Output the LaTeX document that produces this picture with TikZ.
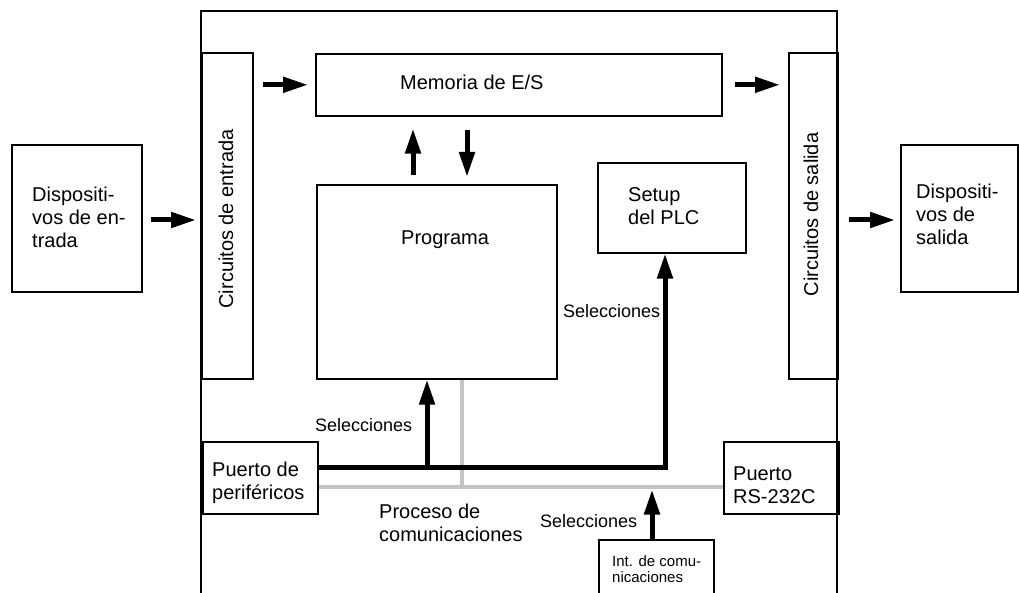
\documentclass[tikz,border=0pt]{standalone}
\usepackage{fontspec}
\setmainfont{Liberation Sans}
\usetikzlibrary{arrows.meta}
\definecolor{greyline}{RGB}{196,196,196}
\newcommand\fa{\fontsize{20}{23}\selectfont}
\newcommand\fsel{\fontsize{18}{20}\selectfont}
\newcommand\fint{\fontsize{15}{16.5}\selectfont}
\tikzset{
  box/.style={draw, line width=1.6pt, inner sep=0pt, anchor=north west},
  txt/.style={inner sep=0pt, anchor=base west, align=left, font=\fa},
  seltxt/.style={inner sep=0pt, anchor=base west, font=\fsel},
  bigarrow/.style={line width=5pt, line join=miter, -{Triangle[length=25pt,width=15pt]}},
  greypath/.style={line width=4.5pt, draw=greyline},
  frame/.style={line width=1.6pt}
}
\begin{document}
\begin{tikzpicture}[x=1pt,y=-1pt]
\clip (0,0) rectangle (1019,593);
\useasboundingbox (0,0) rectangle (1019,593);
% outer frame
\draw[frame] (201,600) -- (201,11) -- (837,11) -- (837,600);
% boxes
\node[box, minimum width=130pt, minimum height=147pt] (dent) at (11,144) {};
\node[box, minimum width=117pt, minimum height=147pt] (dsal) at (900,144) {};
\node[box, minimum width=51pt, minimum height=326pt] (cin) at (201,52) {};
\node[box, minimum width=49pt, minimum height=326pt] (cout) at (788,52) {};
\node[box, minimum width=406pt, minimum height=62pt] (mem) at (315,53) {};
\node[box, minimum width=240pt, minimum height=194pt] (prog) at (316,184) {};
\node[box, minimum width=148pt, minimum height=90pt] (setup) at (597,162) {};
\node[box, minimum width=115pt, minimum height=72pt] (pp) at (202,441) {};
\node[box, minimum width=115pt, minimum height=72pt] (rs) at (723,441) {};
\node[box, minimum width=115pt, minimum height=70pt] (int) at (598,539) {};
% texts (base anchor = baseline of last line)
\node[txt] (tdent) at (32,248) {Dispositi-\\vos de en-\\trada};
\node[txt] (tdsal) at (916,245) {Dispositi-\\vos de\\salida};
\node[txt] (tmem) at (400,90) {Memoria de E/S};
\node[txt] (tprog) at (401,245) {Programa};
\node[txt] (tsetup) at (628,225) {Setup\\del PLC};
\node[txt] (tpp) at (212,499) {Puerto de\\periféricos};
\node[txt] (trs) at (733,503) {Puerto\\RS-232C};
\node[txt] (tproc) at (379,541) {Proceso de\\comunicaciones};
\node[inner sep=0pt, anchor=base west, align=left, font=\fint] (tint) at (612,582.5) {Int. de comu-\\nicaciones};
\node[inner sep=0pt, anchor=base, rotate=90, font=\fa] (tcin) at (233,219) {Circuitos de entrada};
\node[inner sep=0pt, anchor=base, rotate=90, font=\fa] (tcout) at (818,214.5) {Circuitos de salida};
\node[seltxt] (sel1) at (315,431) {Selecciones};
\node[seltxt] (sel2) at (563,317) {Selecciones};
\node[seltxt] (sel3) at (540,527) {Selecciones};
% coordinates
\coordinate (ain) at (0,220);
\coordinate (up) at (413,0);
\coordinate (dn) at (467,0);
\coordinate (bk) at (665,467);
\coordinate (jp) at (427,467);
\coordinate (gj) at (462,487);
\coordinate (ia) at (652,489.5);
% data flow arrows
\draw[bigarrow, shorten <=8pt, shorten >=5pt] (dent.east |- ain) -- (cin.west |- ain);
\draw[bigarrow, shorten <=9pt, shorten >=7pt] (cin.east |- mem.west) -- (mem.west);
\draw[bigarrow, shorten <=12pt, shorten >=8pt] (mem.east) -- (cout.west |- mem.east);
\draw[bigarrow, shorten <=10pt, shorten >=5pt] (cout.east |- ain) -- (dsal.west |- ain);
\draw[bigarrow, shorten <=9pt, shorten >=12pt] (up |- prog.north) -- (up |- mem.south);
\draw[bigarrow, shorten <=13pt, shorten >=7pt] (dn |- mem.south) -- (dn |- prog.north);
% communications
\draw[greypath] (pp.east |- gj) -- (rs.west |- gj);
\draw[greypath] (gj) -- (gj |- prog.south);
\draw[bigarrow] (pp.east |- bk) -- (bk) -- (bk |- setup.south);
\draw[bigarrow] ([yshift=-2.5pt]jp) -- (jp |- prog.south);
\draw[bigarrow] (ia |- int.north) -- (ia);
\end{tikzpicture}
\end{document}
